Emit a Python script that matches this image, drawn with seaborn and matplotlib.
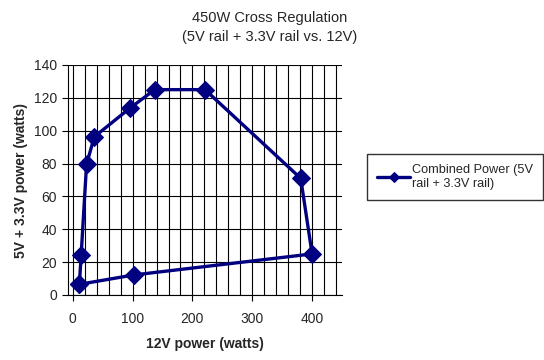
import numpy as np
import seaborn as sns
import matplotlib.pyplot as plt
from matplotlib.ticker import MultipleLocator

# 12V power vs combined 5V + 3.3V power, in the order the curve is traced
power_12v = [11, 14, 23, 36, 95, 137, 221, 381, 400, 102, 11]
power_5v_33v = [6.5, 24.3, 79.5, 96.3, 113.6, 125, 125, 71, 25, 12.2, 6.5]
series_label = "Combined Power (5V\nrail + 3.3V rail)"

sns.set_style("white")
plt.rcParams['font.family'] = ['Liberation Sans', 'DejaVu Sans']

fig = plt.figure(figsize=(5.44, 3.6), dpi=100)
ax = fig.add_axes([68 / 544, 1 - 295 / 360, (342 - 68) / 544, (295 - 65) / 360])

ax = sns.lineplot(x=power_12v, y=power_5v_33v, sort=False, estimator=None,
                  color='#000080', linewidth=2.4, marker='D', markersize=9,
                  markeredgecolor='#000080', label=series_label, ax=ax)

ax.set_xlim(-8, 450)
ax.set_ylim(0, 140)
ax.xaxis.set_minor_locator(MultipleLocator(20))
ax.yaxis.set_major_locator(MultipleLocator(20))
ax.set_xticks([0, 100, 200, 300, 400])
ax.grid(which='both', axis='x', color='black', linewidth=0.8)
ax.grid(which='major', axis='y', color='black', linewidth=0.8)
ax.tick_params(axis='x', which='minor', length=0)
ax.set_axisbelow(True)

for side in ['top', 'right']:
    ax.spines[side].set_visible(False)
for side in ['left', 'bottom']:
    ax.spines[side].set_color('black')
    ax.spines[side].set_linewidth(0.8)

ax.tick_params(axis='both', which='major', direction='out', length=4, width=0.8,
               color='black', labelsize=10, left=True, bottom=True, pad=4)
ax.tick_params(axis='x', which='major', pad=8)

ax.set_xlabel("12V power (watts)", fontsize=10, fontweight='bold', labelpad=8)
ax.set_ylabel("5V + 3.3V power (watts)", fontsize=10, fontweight='bold', labelpad=4)

fig.text(0.495, 0.97, "450W Cross Regulation\n(5V rail + 3.3V rail vs. 12V)",
         ha='center', va='top', fontsize=10.5, linespacing=1.45)

leg = ax.legend(loc='center left', bbox_to_anchor=(367 / 544, 1 - 177 / 360),
                bbox_transform=fig.transFigure, frameon=True, fancybox=False,
                edgecolor='black', fontsize=9.2, handlelength=2.6,
                handletextpad=0.1, borderpad=0.8, borderaxespad=0,
                markerscale=0.6, labelspacing=0.3)
leg.get_frame().set_linewidth(1)

plt.savefig("out.png", dpi=100)
